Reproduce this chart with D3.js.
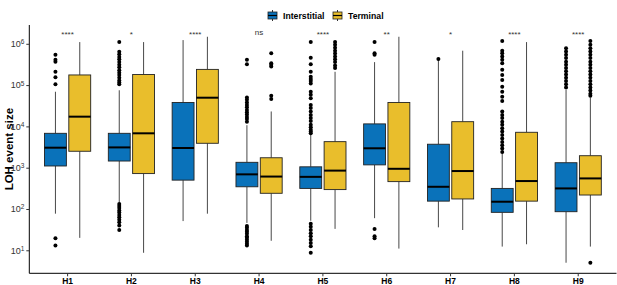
<!DOCTYPE html>
<html>
<head>
<meta charset="utf-8">
<script src="https://cdn.jsdelivr.net/npm/d3@7"></script>
<style>
  body { margin: 0; background: #fff; }
  text { font-family: "Liberation Sans", Arial, sans-serif; }
</style>
</head>
<body>
<svg id="chart"></svg>
<script>
var categories = ["H1", "H2", "H3", "H4", "H5", "H6", "H7", "H8", "H9"];
var groups = ["Interstitial", "Terminal"];
var sigLabels = ["****", "*", "****", "ns", "****", "**", "*", "****", "****"];
var yTicks = [1e1, 1e2, 1e3, 1e4, 1e5, 1e6];

// box stats (Interstitial)
var interMin = [77, 145, 51, 46, 52, 60, 36, 12.3, 5];
var interQ1 = [1100, 1450, 500, 345, 315, 1170, 155, 83, 86];
var interMed = [3050, 3100, 3000, 690, 600, 2950, 345, 150, 315];
var interQ3 = [6800, 6800, 38000, 1350, 1050, 11500, 3700, 315, 1320];
var interMax = [69000, 75000, 1230000, 10700, 6200, 360000, 400000, 2240, 76000];
var interOut = [
  [13, 19.5, 105000, 155000, 210000, 370000, 410000, 540000],
  [31, 40, 48, 55, 63, 72, 82, 92, 105, 118, 132, 105000, 115000, 130000, 150000, 175000, 200000, 230000, 270000, 310000, 360000, 420000, 480000, 560000, 640000, 1100000],
  [],
  [13, 14.5, 16, 18, 20, 22, 25, 28, 31, 35, 39, 13000, 15000, 17000, 19500, 22000, 25000, 29000, 33000, 38000, 44000, 50000, 320000, 410000],
  [8.7, 12.6, 15, 18, 22, 26, 31, 37, 44, 6800, 7500, 8300, 9500, 11000, 13500, 16000, 19000, 23000, 28000, 33000, 48000, 58000, 69000, 110000, 125000, 140000, 160000, 210000, 320000, 460000, 1100000],
  [19.5, 22, 33, 540000, 590000, 1100000],
  [430000],
  [2400, 2900, 3500, 4200, 5100, 6200, 7500, 9000, 11000, 13000, 16000, 19000, 23000, 41000, 52000, 69000, 91000, 132000, 175000, 235000, 340000, 410000, 490000, 590000, 680000, 1170000],
  [88000, 105000, 125000, 150000, 180000, 215000, 260000, 310000, 370000, 450000, 540000, 650000, 780000]
];

// box stats (Terminal)
var termMin = [20, 8.7, 77, 17, 33, 11, 31, 14, 12.3];
var termQ1 = [2500, 720, 3900, 240, 295, 460, 175, 155, 218];
var termMed = [17200, 6800, 49500, 610, 850, 940, 830, 475, 550];
var termQ3 = [176000, 180000, 240000, 1740, 4270, 38000, 13000, 7200, 1950];
var termMax = [1100000, 1100000, 1480000, 23000, 210000, 1480000, 680000, 1100000, 50000];
var termOut = [
  [],
  [],
  [],
  [46000, 55000, 280000, 310000, 340000, 590000],
  [260000, 300000, 360000, 420000, 490000, 580000, 680000, 800000, 950000, 1100000],
  [],
  [],
  [],
  [5, 55000, 62000, 74000, 88000, 105000, 125000, 150000, 180000, 215000, 260000, 310000, 370000, 450000, 540000, 650000, 780000, 950000, 1170000]
];

var colors = { "Interstitial": "#0A72BA", "Terminal": "#E9BE2C" };

function buildBoxes() {
  var arr = [];
  categories.forEach(function (c, i) {
    arr.push({ cat: c, group: "Interstitial", min: interMin[i], q1: interQ1[i], med: interMed[i], q3: interQ3[i], max: interMax[i], out: interOut[i] });
    arr.push({ cat: c, group: "Terminal", min: termMin[i], q1: termQ1[i], med: termMed[i], q3: termQ3[i], max: termMax[i], out: termOut[i] });
  });
  return arr;
}

function drawChart(boxes) {
  var svgWidth = 617, svgHeight = 285;
  var left = 29.3, right = 616.5, top = 25, bottom = 273.3;

  var svg = d3.select("#chart")
    .attr("width", svgWidth)
    .attr("height", svgHeight);

  var x = d3.scaleBand()
    .domain(categories)
    .range([left, right])
    .paddingInner(0)
    .paddingOuter(0.1);

  var xSub = d3.scaleBand()
    .domain(groups)
    .range([x.bandwidth() * 0.1, x.bandwidth() * 0.9])
    .padding(0.1);

  var y = d3.scaleLog()
    .domain([Math.pow(10, 0.443), Math.pow(10, 6.455)])
    .range([bottom, top]);

  // y axis
  var yAxis = svg.append("g")
    .attr("transform", "translate(" + left + ",0)")
    .call(d3.axisLeft(y).tickValues(yTicks).tickSize(3).tickSizeOuter(0).tickPadding(2).tickFormat(function () { return ""; }));
  yAxis.select(".domain").attr("stroke", "#000").attr("d", "M0," + top + "V" + bottom);
  yAxis.selectAll(".tick line").attr("stroke", "#333");
  yAxis.selectAll(".tick text").each(function (d) {
    var t = d3.select(this)
      .attr("fill", "#333")
      .style("font-size", "9px");
    t.append("tspan").text("10");
    t.append("tspan")
      .attr("dy", "-0.45em")
      .style("font-size", "6.5px")
      .text(Math.round(Math.log10(d)));
  });

  // x axis
  var xAxis = svg.append("g")
    .attr("transform", "translate(0," + bottom + ")")
    .call(d3.axisBottom(x).tickSize(3).tickSizeOuter(0).tickPadding(1.5));
  xAxis.select(".domain").attr("stroke", "#000").attr("d", "M" + left + ",0H" + right);
  xAxis.selectAll(".tick line").attr("stroke", "#333");
  xAxis.selectAll(".tick text")
    .attr("fill", "#000")
    .style("font-size", "8.5px")
    .style("font-weight", "bold");

  // y title
  svg.append("text")
    .attr("transform", "translate(9," + ((top + bottom) / 2) + ") rotate(-90)")
    .attr("text-anchor", "middle")
    .attr("dy", "0.35em")
    .style("font-size", "11.5px")
    .style("font-weight", "bold")
    .text("LOH event size");

  var g = svg.selectAll(".box")
    .data(boxes)
    .enter().append("g")
    .attr("class", "box")
    .attr("transform", function (d) { return "translate(" + (x(d.cat) + xSub(d.group)) + ",0)"; });

  var bw = xSub.bandwidth();

  // whiskers
  g.append("line")
    .attr("x1", bw / 2).attr("x2", bw / 2)
    .attr("y1", function (d) { return y(d.max); })
    .attr("y2", function (d) { return y(d.q3); })
    .attr("stroke", "#333").attr("stroke-width", 0.9);
  g.append("line")
    .attr("x1", bw / 2).attr("x2", bw / 2)
    .attr("y1", function (d) { return y(d.q1); })
    .attr("y2", function (d) { return y(d.min); })
    .attr("stroke", "#333").attr("stroke-width", 0.9);

  // boxes
  g.append("rect")
    .attr("x", 0)
    .attr("width", bw)
    .attr("y", function (d) { return y(d.q3); })
    .attr("height", function (d) { return y(d.q1) - y(d.q3); })
    .attr("fill", function (d) { return colors[d.group]; })
    .attr("stroke", "#222")
    .attr("stroke-width", 0.9);

  // medians
  g.append("line")
    .attr("x1", 0).attr("x2", bw)
    .attr("y1", function (d) { return y(d.med); })
    .attr("y2", function (d) { return y(d.med); })
    .attr("stroke", "#000").attr("stroke-width", 2);

  // outliers
  g.selectAll("circle")
    .data(function (d) { return d.out; })
    .enter().append("circle")
    .attr("cx", bw / 2)
    .attr("cy", function (v) { return y(v); })
    .attr("r", 2)
    .attr("fill", "#000");

  // significance labels
  svg.selectAll(".sig")
    .data(categories)
    .enter().append("text")
    .attr("class", "sig")
    .attr("x", function (c) { return x(c) + x.bandwidth() / 2; })
    .attr("y", function (c, i) { return sigLabels[i] === "ns" ? 35 : 37; })
    .attr("text-anchor", "middle")
    .style("fill", "#333")
    .style("font-size", "8px")
    .text(function (c, i) { return sigLabels[i]; });

  // legend
  var legendX = [268, 333];
  var lg = svg.selectAll(".legend")
    .data(groups)
    .enter().append("g")
    .attr("class", "legend")
    .attr("transform", function (d, i) { return "translate(" + legendX[i] + ",10)"; });
  lg.append("line")
    .attr("x1", 4.5).attr("x2", 4.5).attr("y1", 0).attr("y2", 11)
    .attr("stroke", "#333");
  lg.append("rect")
    .attr("x", 0).attr("y", 2).attr("width", 9).attr("height", 7)
    .attr("fill", function (d) { return colors[d]; })
    .attr("stroke", "#222").attr("stroke-width", 0.8);
  lg.append("line")
    .attr("x1", 0).attr("x2", 9).attr("y1", 5.5).attr("y2", 5.5)
    .attr("stroke", "#000").attr("stroke-width", 1.2);
  lg.append("text")
    .attr("x", 15)
    .attr("y", 5.5)
    .attr("dy", "0.35em")
    .style("font-size", "8.7px")
    .style("font-weight", "bold")
    .text(function (d) { return d; });
}

drawChart(buildBoxes());
</script>
</body>
</html>
